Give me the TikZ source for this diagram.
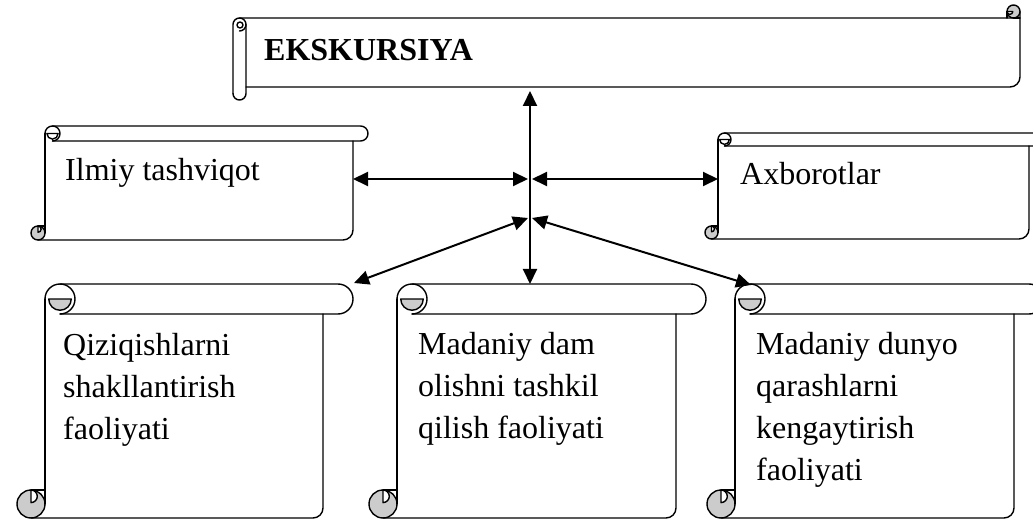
\documentclass[tikz,border=0pt]{standalone}
\usepackage{fontspec}
\setmainfont{Liberation Serif}
\usetikzlibrary{arrows.meta}
\definecolor{curlgray}{gray}{0.8}
\newcommand\bodyfont{\fontsize{32}{42.3}\selectfont}
% vertical scroll: #1 L, #2 R, #3 T, #4 B, #5 roll radius, #6 bottom curl radius, #7 top curl fill
\newcommand\vscroll[7]{%
  \draw[outl] (#1,{#3+#5}) arc[start angle=180,end angle=270,radius=#5]
     -- ({#2+#5},#3) arc[start angle=-90,end angle=90,radius=#5]
     -- ({#1+#5},{#3+2*#5});
  \filldraw[outl,fill=#7] ({#1+0.25*#5},{#3+#5}) arc[start angle=180,end angle=0,radius={0.75*#5}] -- cycle;
  \draw[outl] ({#1+#5},#3) arc[start angle=-90,end angle=90,radius=#5];
  \filldraw[outl,fill=curlgray] ({#1-#6},{#4-#6}) circle[radius=#6];
  \filldraw[outl,fill=white] ({#1-#6},{#4-2*#6}) arc[start angle=-90,end angle=90,radius={0.45*#6}] -- cycle;
  \draw[outl] (#1,{#4-2*#6}) -- ({#1-#6},{#4-2*#6});
  \draw[outl] (#1,{#3+#5}) -- (#1,{#4-#6});
  \draw[outl] (#2,{#3+2*#5}) -- (#2,{#4-10}) arc[start angle=0,end angle=90,radius=10] -- ({#1-#6},#4);
}
\begin{document}
\begin{tikzpicture}[x=1pt,y=1pt,yscale=-1,line join=round,line cap=round,
  outl/.style={line width=1.4pt,draw=black},
  lbl/.style={anchor=base west,inner sep=0pt,font=\bodyfont},
  conn/.style={line width=2pt,{Triangle[length=15pt,width=14pt]}-{Triangle[length=15pt,width=14pt]}}]
\useasboundingbox (0,0) rectangle (1033,521);
\clip (0,0) rectangle (1033,521);

% ---- top horizontal scroll ----
\draw[outl] (233,93.5) -- (233,24.5) arc[start angle=180,end angle=270,radius=6.5] -- (1013.5,18);
\draw[outl] (233,93.5) arc[start angle=180,end angle=0,radius=6.5] -- (246,24.5);
\draw[outl] (239.5,18) arc[start angle=-90,end angle=90,radius=6.5];
\draw[outl] (240,25) circle[radius=3];
\draw[outl] (246,87) -- (1010,87) arc[start angle=90,end angle=0,radius=10] -- (1020,11.5);
\filldraw[outl,fill=curlgray] (1013.5,11.5) circle[radius=6.5];
\filldraw[outl,fill=white] (1007,11.5) arc[start angle=180,end angle=0,radius=2.9] -- cycle;
\draw[outl] (1007,18) -- (1007,11.5);
\draw[outl] (1013.5,18) -- (1020,18);

% ---- middle row ----
\vscroll{45}{353}{126}{240}{7.5}{7}{white}
\vscroll{718}{1029}{133}{239}{6.5}{6.5}{white}

% ---- bottom row ----
\vscroll{45}{323}{284}{518}{15}{14}{curlgray}
\vscroll{397}{676}{284}{518}{15}{14}{curlgray}
\vscroll{735}{1014}{284}{518}{15}{14}{curlgray}

% ---- texts ----
\node[lbl,font=\bodyfont\bfseries] (eks) at (264,61) {EKSKURSIYA};
\node[lbl] (ilmiy) at (65,181) {Ilmiy tashviqot};
\node[lbl] (axb) at (740,185) {Axborotlar};
\node[lbl] (qiz) at (63,355) {\begin{tabular}[t]{@{}l@{}}Qiziqishlarni\\shakllantirish\\faoliyati\end{tabular}};
\node[lbl] (mdam) at (418,354) {\begin{tabular}[t]{@{}l@{}}Madaniy dam\\olishni tashkil\\qilish faoliyati\end{tabular}};
\node[lbl] (mdun) at (756,354) {\begin{tabular}[t]{@{}l@{}}Madaniy dunyo\\qarashlarni\\kengaytirish\\faoliyati\end{tabular}};

% ---- connectors ----
\coordinate (eksB) at (530,91);
\coordinate (mdamT) at (530,284);
\coordinate (ilmR) at (353,179);
\coordinate (hubW) at (528,179);
\coordinate (hubE) at (532,179);
\coordinate (axbL) at (718,179);
\coordinate (hubSW) at (528,218);
\coordinate (qizT) at (354,283);
\coordinate (hubSE) at (532,218);
\coordinate (mdunT) at (751,285);
\draw[conn] (eksB) -- (mdamT);
\draw[conn] (ilmR) -- (hubW);
\draw[conn] (hubE) -- (axbL);
\draw[conn] (hubSW) -- (qizT);
\draw[conn] (hubSE) -- (mdunT);
\end{tikzpicture}
\end{document}
